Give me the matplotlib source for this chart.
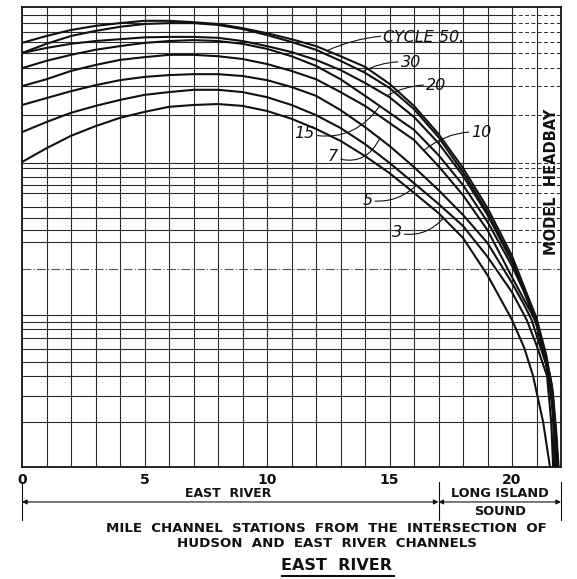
import numpy as np
import matplotlib.pyplot as plt
from matplotlib.lines import Line2D

# ----------------------------------------------------------------------
# Headbay stage profiles along the East River, one curve per tidal cycle.
# Stage is on a relative 0-100 scale (bottom to top of the grid).
# ----------------------------------------------------------------------

MILES = list(range(0, 21))          # whole-mile channel stations 0..20

stage_c50 = [92.2, 93.7, 95.0, 95.9, 96.5, 97.0, 97.0, 96.7, 96.3, 95.4, 94.3,
             93.0, 91.5, 89.3, 87.0, 83.3, 78.5, 72.4, 65.0, 56.3, 45.9]
tail_mi_c50 = [20.5, 21.0, 21.4, 21.67, 21.8, 21.9]
tail_c50 = [39.1, 32.4, 24.3, 16.1, 8.0, 0.0]

stage_c30 = [90.0, 92.0, 93.7, 94.8, 95.7, 96.3, 96.5, 96.5, 96.1, 95.2, 93.9,
             92.4, 90.7, 88.3, 85.7, 82.4, 77.8, 71.7, 64.1, 55.4, 45.0]
tail_mi_c30 = [20.5, 21.0, 21.4, 21.67, 21.8, 21.88]
tail_c30 = [38.7, 31.7, 23.3, 14.6, 7.0, 0.0]

stage_c20 = [90.0, 91.1, 92.0, 92.6, 93.0, 93.4, 93.5, 93.5, 93.3, 92.6, 91.5,
             90.2, 88.5, 86.3, 83.5, 80.4, 76.1, 70.4, 63.3, 54.8, 44.6]
tail_mi_c20 = [20.5, 21.0, 21.4, 21.67, 21.8, 21.86]
tail_c20 = [38.0, 30.9, 22.2, 13.5, 5.9, 0.0]

stage_c15 = [86.7, 88.3, 89.6, 90.7, 91.5, 92.2, 92.6, 92.8, 92.6, 92.0, 90.9,
             89.3, 87.2, 84.3, 80.7, 77.0, 73.3, 67.8, 61.3, 53.3, 43.7]
tail_mi_c15 = [20.5, 21.0, 21.4, 21.67, 21.84]
tail_c15 = [38.0, 31.5, 22.2, 12.4, 0.0]

stage_c10 = [82.8, 84.3, 86.1, 87.4, 88.5, 89.1, 89.6, 89.6, 89.3, 88.7, 87.6,
             86.1, 84.3, 81.5, 78.5, 74.8, 71.1, 65.4, 59.1, 51.5, 41.3]
tail_mi_c10 = [20.5, 20.94, 21.3, 21.63, 21.76, 21.8]
tail_c10 = [36.3, 32.0, 25.9, 17.8, 9.1, 0.0]

stage_c7 = [78.7, 80.2, 81.7, 83.0, 84.1, 84.8, 85.2, 85.4, 85.4, 85.0, 84.1,
            82.6, 80.7, 77.6, 73.9, 69.8, 65.2, 60.2, 54.8, 48.7, 40.0]
tail_mi_c7 = [20.5, 20.8, 21.2, 21.55, 21.68, 21.74]
tail_c7 = [35.2, 32.0, 25.4, 19.8, 9.8, 0.0]

stage_c5 = [72.8, 75.0, 77.0, 78.5, 79.8, 80.9, 81.5, 82.0, 82.0, 81.5, 80.4,
            78.7, 76.5, 73.7, 70.2, 66.1, 61.7, 57.2, 52.4, 45.7, 38.0]
tail_mi_c5 = [20.6, 21.0, 21.43, 21.6, 21.68]
tail_c5 = [32.0, 26.5, 19.8, 9.8, 0.0]

stage_c3 = [66.3, 69.3, 72.0, 74.1, 75.9, 77.2, 78.3, 78.7, 78.9, 78.5, 77.4,
            75.7, 73.5, 70.9, 67.6, 63.9, 59.6, 55.2, 49.8, 41.7, 32.0]
tail_mi_c3 = [20.5, 20.86, 21.27, 21.55]
tail_c3 = [25.9, 19.8, 9.8, 0.0]

# horizontal rulings of the chart paper (relative stage)
GRID_LEVELS = [98.3, 96.5, 94.6, 92.4, 90.0, 86.7, 82.8, 76.5, 66.1, 65.0,
               63.0, 61.3, 59.6, 56.5, 54.1, 51.5, 48.9, 33.0, 31.5, 30.0,
               28.0, 25.7, 22.8, 19.8, 15.4, 9.8]
DASHDOT_LEVEL = 43.0

X_TICKS = [0, 5, 10, 15, 20]
REACH_SPLIT = 17.0     # East River / Long Island Sound boundary, miles
REACH_END = 22.0

CURVES = {
    '50': (MILES + tail_mi_c50, stage_c50 + tail_c50),
    '30': (MILES + tail_mi_c30, stage_c30 + tail_c30),
    '20': (MILES + tail_mi_c20, stage_c20 + tail_c20),
    '15': (MILES + tail_mi_c15, stage_c15 + tail_c15),
    '10': (MILES + tail_mi_c10, stage_c10 + tail_c10),
    '7':  (MILES + tail_mi_c7,  stage_c7 + tail_c7),
    '5':  (MILES + tail_mi_c5,  stage_c5 + tail_c5),
    '3':  (MILES + tail_mi_c3,  stage_c3 + tail_c3),
}

# label text, text anchor (mile, stage), alignment, leader target mile, bend
LABELS = [
    ('CYCLE 50.', 14.75, 93.3, 'left', 12.45, 0.15),
    ('30', 15.45, 88.0, 'left', 13.9, 0.15),
    ('20', 16.5, 83.0, 'left', 14.9, 0.15),
    ('15', 11.95, 72.6, 'right', 14.6, 0.35),
    ('7', 12.9, 67.4, 'right', 14.6, 0.45),
    ('10', 18.35, 72.8, 'left', 16.4, 0.2),
    ('5', 14.3, 58.0, 'right', 16.1, 0.25),
    ('3', 15.5, 50.9, 'right', 17.2, 0.3),
]

INK = '#111111'
GRID = '#2a2a2a'

fig = plt.figure(figsize=(5.77, 5.79), dpi=100)
ax = fig.add_axes([22 / 577, 112 / 579, 539 / 577, 460 / 579])
ax.set_xlim(0, REACH_END)
ax.set_ylim(0, 100)

# chart paper
for m in range(1, 22):
    ax.axvline(m, color=GRID, lw=0.8, zorder=1)
for lv in GRID_LEVELS:
    if lv > 45:
        ax.hlines(lv, 0, 20, color=GRID, lw=0.8, zorder=1)
        ax.hlines(lv, 20, 22, color=GRID, lw=0.7, linestyles=(0, (4, 2.5)),
                  zorder=1)
    else:
        ax.hlines(lv, 0, 22, color=GRID, lw=0.8, zorder=1)
ax.hlines(DASHDOT_LEVEL, 0, 22, color='#555555', lw=0.8,
          linestyles=(0, (8, 2, 1, 2)), zorder=1)

for sp in ax.spines.values():
    sp.set_linewidth(1.3)
    sp.set_color(INK)

# cycle curves
for name, (xs, ys) in CURVES.items():
    ax.plot(xs, ys, color=INK, lw=1.5, solid_joinstyle='round',
            solid_capstyle='round', zorder=3)

for text, tx, ty, ha, tm, rad in LABELS:
    xs, ys = CURVES[text.replace('CYCLE ', '').rstrip('.')]
    ax.annotate(text, xy=(tm, np.interp(tm, xs, ys)), xytext=(tx, ty),
                fontsize=11.5, style='italic', color=INK, ha=ha, va='center',
                arrowprops=dict(arrowstyle='-', lw=0.8, color=INK,
                                shrinkA=0, shrinkB=0,
                                connectionstyle=f'arc3,rad={rad}'),
                zorder=4)

ax.text(21.62, 62.0, 'MODEL  HEADBAY', rotation=90, fontsize=10.5,
        fontweight='bold', color=INK, ha='center', va='center', zorder=4)

# axis: mile stations
ax.set_xticks(X_TICKS)
ax.set_xticklabels([str(t) for t in X_TICKS], fontsize=10, fontweight='bold',
                   color=INK)
ax.tick_params(axis='x', length=0, pad=4)
ax.set_yticks([])

# reach dimension line below the axis
xt = ax.get_xaxis_transform()
for m in (0, REACH_SPLIT, REACH_END):
    ax.add_line(Line2D([m, m], [-0.033, -0.115], transform=xt, color=INK,
                       lw=0.8, clip_on=False))
for a, b in ((0, REACH_SPLIT), (REACH_SPLIT, REACH_END)):
    ax.annotate('', xy=(a, -0.076), xytext=(b, -0.076), xycoords=xt,
                textcoords=xt,
                arrowprops=dict(arrowstyle='<|-|>', lw=0.8, color=INK,
                                mutation_scale=7, shrinkA=0, shrinkB=0))
ax.text(8.4, -0.057, 'EAST  RIVER', transform=xt, fontsize=9,
        fontweight='bold', ha='center', va='center', color=INK)
ax.text(19.5, -0.057, 'LONG ISLAND', transform=xt, fontsize=9.3,
        fontweight='bold', ha='center', va='center', color=INK)
ax.text(19.5, -0.096, 'SOUND', transform=xt, fontsize=9.3,
        fontweight='bold', ha='center', va='center', color=INK)

fig.text(0.565, 0.088, 'MILE  CHANNEL  STATIONS  FROM  THE  INTERSECTION  OF',
         fontsize=9.6, fontweight='bold', ha='center', va='center', color=INK)
fig.text(0.567, 0.062, 'HUDSON  AND  EAST  RIVER  CHANNELS',
         fontsize=9.6, fontweight='bold', ha='center', va='center', color=INK)
fig.text(0.583, 0.024, 'EAST  RIVER', fontsize=11.5, fontweight='bold',
         ha='center', va='center', color=INK)
fig.add_artist(Line2D([0.488, 0.682], [0.005, 0.005], color=INK, lw=1.5,
                      transform=fig.transFigure))

fig.savefig('out.png', dpi=100, facecolor='white')
